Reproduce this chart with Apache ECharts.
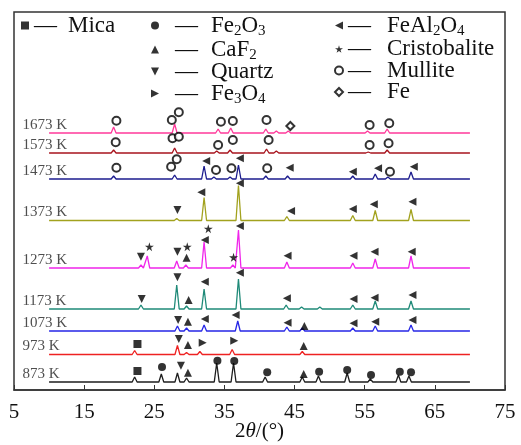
<!DOCTYPE html>
<html>
<head>
<meta charset="utf-8">
<script src="https://cdn.jsdelivr.net/npm/echarts@6/dist/echarts.min.js"></script>
<style>
  html, body { margin: 0; padding: 0; background: #fff; }
  #chart { width: 521px; height: 445px; }
</style>
</head>
<body>
<div id="chart"></div>
<script>
// sample temperatures, bottom to top
const temps = ['873 K', '973 K', '1073 K', '1173 K', '1273 K', '1373 K', '1473 K', '1573 K', '1673 K']
// vertical shift of each pattern (stacked)
const offsets = [8, 35.5, 59, 81, 122, 169.5, 211, 237, 257]
const lineColors = ['#1e1e1e', '#ee2222', '#2626e6', '#1f8a78', '#f026ea', '#a2a21e', '#1c1c8e', '#a8141e', '#ff3a9a']

// peaks: [2theta, height]
const peaks873 = [[22.2, 5], [26.0, 8], [28.3, 9], [29.6, 4], [33.9, 19], [36.3, 19], [40.8, 5], [46.1, 5], [48.4, 6], [52.5, 9], [55.8, 3], [59.8, 7], [61.3, 6]]
const peaks973 = [[22.2, 4], [28.3, 9], [29.6, 2], [31.5, 3], [36.1, 5], [46.1, 3]]
const peaks1073 = [[28.3, 5], [29.6, 3], [32.1, 6], [36.9, 10], [43.9, 4], [46.1, 3], [53.3, 3], [56.5, 5], [61.6, 6]]
const peaks1173 = [[23.1, 4], [28.2, 24], [29.6, 3], [32.1, 20], [37.0, 30], [43.8, 4], [46.0, 2], [48.6, 2], [53.3, 4], [56.5, 8], [61.6, 8]]
const peaks1273 = [[23.1, 3], [24.0, 12], [28.2, 7], [29.5, 3], [32.1, 26], [36.2, 3], [37.0, 38], [43.9, 6], [53.3, 5], [56.5, 9], [61.6, 12]]
const peaks1373 = [[28.2, 2], [32.1, 23], [37.0, 35], [43.9, 4], [53.3, 5], [56.5, 10], [61.6, 11]]
const peaks1473 = [[19.2, 3], [27.9, 4], [32.1, 13], [33.5, 2], [35.8, 2], [37.0, 14], [40.9, 3], [44.0, 3], [53.3, 3], [56.5, 5], [58.3, 2], [61.6, 7]]
const peaks1573 = [[19.2, 3], [27.9, 5], [33.9, 2], [35.8, 3], [41.0, 4], [42.4, 2], [55.5, 1], [58.2, 3]]
const peaks1673 = [[19.2, 6], [27.9, 9], [34.1, 4], [35.9, 5], [40.9, 4], [42.4, 2], [44.1, 2], [55.4, 2], [58.2, 4]]
const allPeaks = [peaks873, peaks973, peaks1073, peaks1173, peaks1273, peaks1373, peaks1473, peaks1573, peaks1673]

// phase markers: [2theta, y]
const mica = [[22.6, 19], [22.6, 46]]
const fe2o3 = [[26.1, 23], [34.0, 29.3], [36.4, 29], [41.1, 17.7], [48.5, 18.3], [52.5, 20], [55.9, 15], [60.0, 18.3], [61.6, 17.7]]
const caf2 = [[29.8, 17.3], [46.3, 16], [29.8, 45], [46.3, 44], [29.8, 68.3], [46.4, 64], [29.9, 90], [29.6, 132.3]]
const quartz = [[28.8, 24.3], [28.5, 51], [28.4, 70], [23.2, 91], [28.3, 112.7], [23.1, 133.3], [28.3, 138.3], [28.3, 180]]
const fe3o4 = [[31.9, 47.3], [36.4, 49.3]]
const feal2o4 = [
  [32.2, 71], [36.6, 75], [44.0, 67.3], [53.4, 66.7], [56.5, 68.3], [61.8, 70],
  [32.2, 108.3], [37.2, 117.3], [43.9, 91.7], [53.4, 91], [56.4, 92.3], [61.8, 95],
  [32.2, 150], [37.2, 164], [44.0, 134.3], [53.4, 134.3], [56.4, 138.3], [61.7, 138.3],
  [31.7, 197.7], [37.2, 206.7], [44.5, 179], [53.3, 181], [56.3, 185.7], [61.8, 188.3],
  [32.4, 229], [37.2, 231.7], [44.3, 222.3], [53.3, 218.3], [56.9, 221.7], [62.0, 223.3]
]
const cristobalite = [[24.3, 143.3], [29.7, 143.3], [32.7, 161.3], [36.3, 132.7]]
const mullite = [
  [19.6, 222.3], [27.4, 223.3], [28.2, 230.7], [33.8, 220], [36.0, 221.7], [41.1, 221.7], [58.6, 218.3],
  [19.5, 247.7], [27.6, 251.7], [28.5, 253.3], [34.1, 245], [36.2, 250], [41.3, 250], [55.7, 245], [58.4, 246.7],
  [19.6, 269.3], [27.5, 270], [28.5, 277.7], [34.5, 268.3], [36.2, 269], [41.0, 270], [55.7, 265], [58.5, 266.7]
]
const fe = [[44.4, 264]]

const STAR = 'path://M50,0 L61,35 L98,35 L68,57 L79,91 L50,70 L21,91 L32,57 L2,35 L39,35 Z'
const TRI_UP = 'path://M50,0 L100,100 L0,100 Z'
const TRI_DOWN = 'path://M0,0 L100,0 L50,100 Z'
const TRI_RIGHT = 'path://M0,0 L100,50 L0,100 Z'
const TRI_LEFT = 'path://M100,0 L0,50 L100,100 Z'
const serif = 'Liberation Serif'

// pattern = flat baseline with triangular peaks
function trace(offset, peaks) {
  const w = 0.35
  const pts = [[10, offset]]
  peaks.forEach(([p, h]) => {
    pts.push([p - w, offset], [p, offset + h], [p + w, offset])
  })
  pts.push([70, offset])
  return pts
}

const lineSeries = temps.map((t, i) => ({
  name: t,
  type: 'line',
  data: trace(offsets[i], allPeaks[i]),
  symbol: 'none',
  lineStyle: { color: lineColors[i], width: 1.3 },
  z: 2,
  silent: true,
}))

const labelSeries = {
  name: 'labels',
  type: 'scatter',
  symbolSize: 0,
  data: offsets.map((o, i) => ({ value: [6.2, o], name: temps[i] })),
  label: {
    show: true,
    position: 'right',
    distance: 0,
    offset: [0, -8],
    formatter: (p) => p.name,
    fontFamily: serif,
    fontSize: 15,
    color: '#222',
  },
  silent: true,
}

function marker(name, data, symbol, empty) {
  return {
    name,
    type: 'scatter',
    data,
    symbol,
    symbolSize: symbol === STAR ? 9 : 8,
    itemStyle: empty
      ? { color: '#000', borderColor: '#000', borderWidth: 1.4 }
      : { color: '#000' },
    z: 5,
    silent: true,
  }
}

const markerSeries = [
  marker('Mica', mica, 'rect'),
  marker('Fe2O3', fe2o3, 'circle'),
  marker('CaF2', caf2, TRI_UP),
  marker('Quartz', quartz, TRI_DOWN),
  marker('Fe3O4', fe3o4, TRI_RIGHT),
  marker('FeAl2O4', feal2o4, TRI_LEFT),
  marker('Cristobalite', cristobalite, STAR),
  marker('Mullite', mullite, 'emptyCircle', true),
  marker('Fe', fe, 'emptyDiamond', true),
]

// legend text: dash, then name with digits as subscripts
function legendText(n) {
  return '{d|—}' + n.replace(/([A-Za-z]+)|(\d)/g, (m, w, d) => (w ? '{t|' + w + '}' : '{s|' + d + '}'))
}

function legendCol(names, left, top, gap, dashWidth, dashPad) {
  return {
    data: names,
    orient: 'vertical',
    left,
    top,
    padding: 0,
    itemWidth: 8,
    itemHeight: 8,
    itemGap: gap,
    selectedMode: false,
    formatter: legendText,
    textStyle: {
      fontFamily: serif,
      fontSize: 23,
      lineHeight: 18,
      color: '#111',
      rich: {
        d: { fontFamily: serif, fontSize: 23, width: dashWidth, padding: [0, 0, 0, dashPad], lineHeight: 18, color: '#111' },
        t: { fontFamily: serif, fontSize: 23, lineHeight: 18, color: '#111' },
        s: { fontFamily: serif, fontSize: 15, lineHeight: 6, padding: [12, 0, 0, 0], color: '#111' },
      },
    },
  }
}

const chart = echarts.init(document.getElementById('chart'))
chart.setOption({
  animation: false,
  backgroundColor: '#fff',
  grid: {
    left: 14, right: 16, top: 12, bottom: 55,
    outerBoundsMode: 'none',
    show: true, borderColor: '#333', borderWidth: 1.5,
  },
  legend: [
    legendCol(['Mica'], 21, 14, 0, 34, 0),
    legendCol(['Fe2O3', 'CaF2', 'Quartz', 'Fe3O4'], 151, 12, -3, 36, 11),
    legendCol(['FeAl2O4', 'Cristobalite', 'Mullite', 'Fe'], 334, 12, -1.5, 39, 0),
  ],
  xAxis: {
    type: 'value',
    min: 5,
    max: 75,
    interval: 10,
    splitLine: { show: false },
    axisLine: { lineStyle: { color: '#333', width: 1.5 } },
    axisTick: { inside: true, length: 5, lineStyle: { color: '#333' } },
    axisLabel: { fontFamily: serif, fontSize: 21, color: '#111', margin: 12 },
    name: '2{i|θ}/(°)',
    nameLocation: 'middle',
    nameGap: 31,
    nameMoveOverlap: false,
    nameTextStyle: {
      fontFamily: serif,
      fontSize: 21,
      color: '#111',
      rich: { i: { fontFamily: serif, fontSize: 21, fontStyle: 'italic', color: '#111' } },
    },
  },
  yAxis: { type: 'value', min: 0, max: 378, show: false },
  series: [...lineSeries, labelSeries, ...markerSeries],
})
</script>
</body>
</html>
